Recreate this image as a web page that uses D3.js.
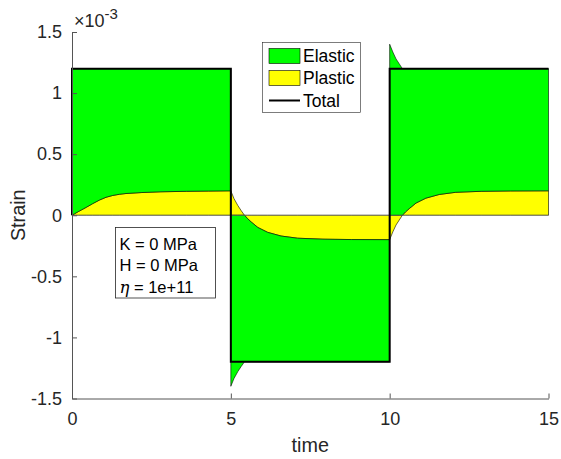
<!DOCTYPE html>
<html>
<head>
<meta charset="utf-8">
<script src="https://cdn.jsdelivr.net/npm/d3@7"></script>
<style>
body { margin: 0; background: #fff; }
</style>
</head>
<body>
<div id="chart"></div>
<script>
'use strict';

// strain values in units of 1e-3 (axis shows x10^-3)
var time = [0, 0, 0.2, 0.45, 0.65, 0.87, 1.07, 1.28, 1.5, 1.7, 2.2, 2.8, 3.6, 4.3, 5,
            5, 5.1, 5.22, 5.32, 5.43, 5.53, 5.64, 5.85, 6.16, 6.58, 7.1, 7.9, 8.8, 10,
            10, 10.1, 10.2, 10.3, 10.4, 10.5, 10.62, 10.83, 11.14, 11.56, 12.08, 12.88, 13.8, 15];
var plastic = [0, 0, 0.03, 0.065, 0.095, 0.125, 0.147, 0.162, 0.172, 0.178, 0.186, 0.192, 0.196, 0.198, 0.2,
               0.2, 0.136, 0.08, 0.04, 0, -0.028, -0.055, -0.1, -0.14, -0.17, -0.188, -0.196, -0.199, -0.2,
               -0.2, -0.136, -0.08, -0.04, 0, 0.028, 0.055, 0.1, 0.14, 0.17, 0.188, 0.196, 0.199, 0.2];
var elastic = [0, 1.2, 1.17, 1.135, 1.105, 1.075, 1.053, 1.038, 1.028, 1.022, 1.014, 1.008, 1.004, 1.002, 1.0,
               -1.4, -1.336, -1.28, -1.24, -1.2, -1.172, -1.145, -1.1, -1.06, -1.03, -1.012, -1.004, -1.001, -1.0,
               1.4, 1.336, 1.28, 1.24, 1.2, 1.172, 1.145, 1.1, 1.06, 1.03, 1.012, 1.004, 1.001, 1.0];
var total = [0, 1.2, 1.2, 1.2, 1.2, 1.2, 1.2, 1.2, 1.2, 1.2, 1.2, 1.2, 1.2, 1.2, 1.2,
             -1.2, -1.2, -1.2, -1.2, -1.2, -1.2, -1.2, -1.2, -1.2, -1.2, -1.2, -1.2, -1.2, -1.2,
             1.2, 1.2, 1.2, 1.2, 1.2, 1.2, 1.2, 1.2, 1.2, 1.2, 1.2, 1.2, 1.2, 1.2];

var xTicks = [0, 5, 10, 15];
var yTicks = [-1.5, -1, -0.5, 0, 0.5, 1, 1.5];
var yTickLabels = ['-1.5', '-1', '-0.5', '0', '0.5', '1', '1.5'];
var seriesNames = ['Elastic', 'Plastic', 'Total'];
var seriesColors = ['#00ff00', '#ffff00', '#000000'];
var noteLines = ['K = 0 MPa', 'H = 0 MPa', ' = 1e+11'];

var chart = {};
chart.width = 561;
chart.height = 459;
chart.margins = {top: 32, left: 72};
chart.cw = 476.5;
chart.ch = 366.5;
chart.font = "'Liberation Sans', Arial, Helvetica, sans-serif";
chart.textColor = '#262626';

var rows = time.map(function (t, i) {
    return {t: t, p: plastic[i], e: elastic[i], total: total[i]};
});

var svg = d3.select('#chart').append('svg')
    .attr('width', chart.width)
    .attr('height', chart.height);

var x = d3.scaleLinear().domain([0, 15]).range([0, chart.cw]);
var y = d3.scaleLinear().domain([-1.5, 1.5]).range([chart.ch, 0]);

var g = svg.append('g')
    .attr('transform', 'translate(' + chart.margins.left + ',' + chart.margins.top + ')');

// plastic area (from zero)
var plasticArea = d3.area()
    .x(function (d) { return x(d.t); })
    .y0(function () { return y(0); })
    .y1(function (d) { return y(d.p); });

// elastic area, stacked on plastic when same sign, else from zero (matlab area stacking)
var elasticArea = d3.area()
    .x(function (d) { return x(d.t); })
    .y0(function (d) { return d.p * d.e > 0 ? y(d.p) : y(0); })
    .y1(function (d) { return d.p * d.e > 0 ? y(d.p + d.e) : y(d.e); });

g.append('path')
    .datum(rows)
    .attr('d', plasticArea)
    .attr('fill', seriesColors[1])
    .attr('stroke', '#000')
    .attr('stroke-width', 0.6);

g.append('path')
    .datum(rows)
    .attr('d', elasticArea)
    .attr('fill', seriesColors[0])
    .attr('stroke', '#000')
    .attr('stroke-width', 0.6);

// base line
g.append('line')
    .attr('x1', x(0)).attr('x2', x(15))
    .attr('y1', y(0)).attr('y2', y(0))
    .attr('stroke', '#777')
    .attr('stroke-width', 0.6);

var totalLine = d3.line()
    .x(function (d) { return x(d.t); })
    .y(function (d) { return y(d.total); });

g.append('path')
    .datum(rows)
    .attr('d', totalLine)
    .attr('fill', 'none')
    .attr('stroke', seriesColors[2])
    .attr('stroke-width', 2);

// axes
var yAxis = d3.axisLeft(y)
    .tickValues(yTicks)
    .tickFormat(function (d, i) { return yTickLabels[i]; })
    .tickSizeInner(-5)
    .tickSizeOuter(0)
    .tickPadding(10);
var xAxis = d3.axisBottom(x)
    .tickValues(xTicks)
    .tickFormat(d3.format('d'))
    .tickSizeInner(-5)
    .tickSizeOuter(0)
    .tickPadding(14);

var yAxisGroup = g.append('g').attr('class', 'yAxis').call(yAxis);
var xAxisGroup = g.append('g').attr('class', 'xAxis')
    .attr('transform', 'translate(0,' + chart.ch + ')')
    .call(xAxis);

[xAxisGroup, yAxisGroup].forEach(function (ax) {
    ax.attr('font-size', 18).attr('font-family', chart.font);
    ax.selectAll('text').attr('fill', chart.textColor);
    ax.selectAll('line').attr('stroke', '#555');
    ax.select('.domain').attr('stroke', '#555');
});

// axis labels
svg.append('text')
    .attr('x', chart.margins.left + chart.cw / 2)
    .attr('y', 452)
    .attr('text-anchor', 'middle')
    .attr('font-family', chart.font)
    .attr('font-size', 19.8)
    .attr('fill', chart.textColor)
    .text('time');

svg.append('text')
    .attr('transform', 'translate(25,' + (chart.margins.top + chart.ch / 2) + ') rotate(-90)')
    .attr('text-anchor', 'middle')
    .attr('font-family', chart.font)
    .attr('font-size', 19.8)
    .attr('fill', chart.textColor)
    .text('Strain');

// exponent label
var expo = svg.append('text')
    .attr('x', 74)
    .attr('y', 27)
    .attr('font-family', chart.font)
    .attr('font-size', 18)
    .attr('fill', chart.textColor);
expo.append('tspan').text('\u00d710');
expo.append('tspan').attr('font-size', 15).attr('dy', -8.5).text('-3');

// legend
var legend = svg.append('g').attr('class', 'legendGroup')
    .attr('transform', 'translate(262.5,42.5)');
legend.append('rect')
    .attr('width', 98).attr('height', 70)
    .attr('fill', '#fff')
    .attr('stroke', '#262626')
    .attr('stroke-width', 0.6);

var legendItems = seriesNames.map(function (n, i) {
    return {name: n, color: seriesColors[i], y: [13.5, 35.5, 58][i]};
});
legendItems.forEach(function (d, i) {
    if (i < 2) {
        legend.append('rect')
            .attr('x', 6.5).attr('y', d.y - 7.5)
            .attr('width', 31).attr('height', 15)
            .attr('fill', d.color)
            .attr('stroke', '#000')
            .attr('stroke-width', 0.6);
    } else {
        legend.append('line')
            .attr('x1', 6.5).attr('x2', 37.5)
            .attr('y1', d.y).attr('y2', d.y)
            .attr('stroke', d.color)
            .attr('stroke-width', 2);
    }
    legend.append('text')
        .attr('x', 40.5)
        .attr('y', d.y)
        .attr('dy', '0.35em')
        .attr('font-family', chart.font)
        .attr('font-size', 17.5)
        .attr('fill', '#000')
        .text(d.name);
});

// parameter box
var note = svg.append('g').attr('transform', 'translate(115.5,227.5)');
note.append('rect')
    .attr('width', 100).attr('height', 70.5)
    .attr('fill', '#fff')
    .attr('stroke', '#262626')
    .attr('stroke-width', 0.8);
noteLines.forEach(function (s, i) {
    var t = note.append('text')
        .attr('x', 4)
        .attr('y', 22 + i * 21.5)
        .attr('font-family', chart.font)
        .attr('font-size', 16.5)
        .attr('fill', '#000');
    if (i == 2) {
        t.append('tspan')
            .attr('font-family', "'DejaVu Serif', 'Liberation Serif', serif")
            .attr('font-style', 'italic')
            .text('\u03b7');
    }
    t.append('tspan').text(s);
});
</script>
</body>
</html>
